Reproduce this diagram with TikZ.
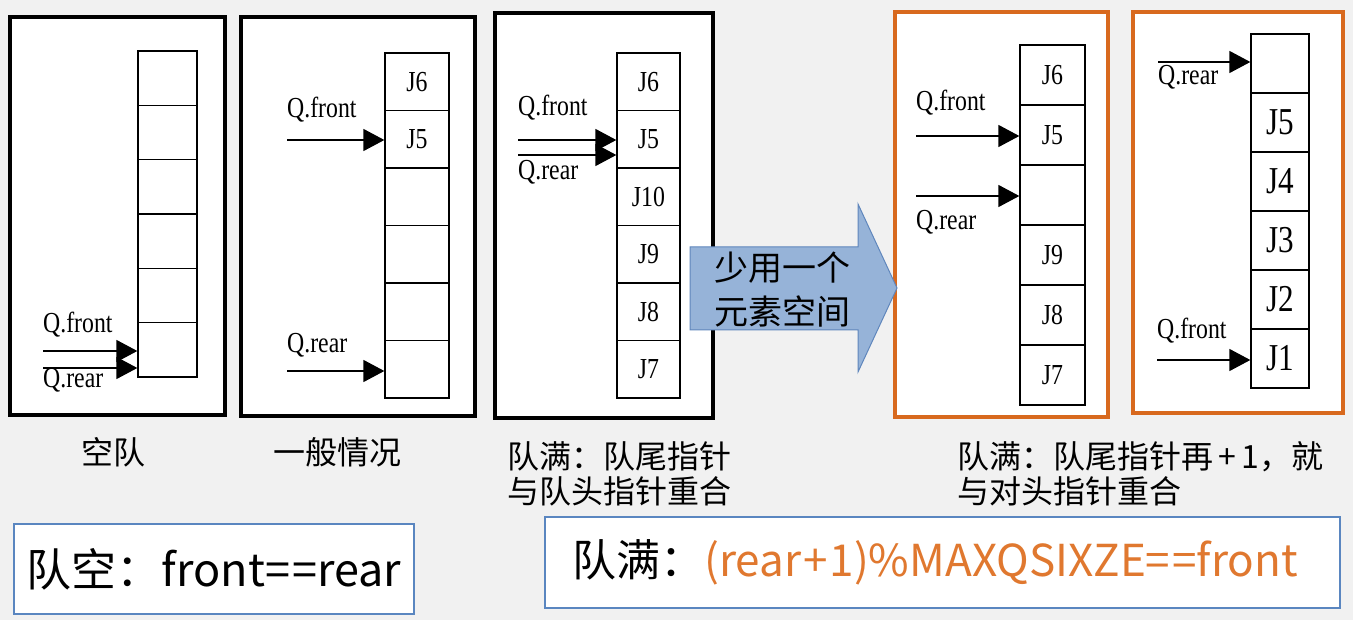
\documentclass[tikz,border=0pt]{standalone}
\usepackage{fontspec}
\usepackage{tikz}
\setmainfont{Noto Sans CJK SC}
\newfontfamily\qfont[FakeStretch=0.82]{Liberation Serif}
\usetikzlibrary{arrows.meta, positioning}
\definecolor{frameorange}{HTML}{D8691E}
\definecolor{textorange}{HTML}{E0782F}
\definecolor{boxblue}{HTML}{5A86C0}
\definecolor{arrowfill}{HTML}{96B3D8}
\definecolor{arrowdraw}{HTML}{5F86BC}
\definecolor{pagegray}{HTML}{F1F1F1}

\begin{document}
\begin{tikzpicture}[x=1pt, y=-1pt,
    cell/.style={rectangle, draw, line width=1.3pt, fill=white, inner sep=0pt, font=\qfont\fontsize{29}{29}\selectfont},
    bigcell/.style={cell, font=\qfont\fontsize{38}{38}\selectfont},
    ptr/.style={line width=1.5pt, -{Triangle[length=21pt, width=22pt]}},
    qlabel/.style={anchor=west, inner sep=0pt, font=\qfont\fontsize{29}{29}\selectfont},
    panel/.style={draw, line width=4.5pt, fill=white},
    caption/.style={inner sep=0pt, font=\fontsize{32}{35}\selectfont, align=left},
    formula/.style={rectangle, draw=boxblue, line width=2.5pt, fill=white, inner sep=0pt, font=\fontsize{45}{45}\selectfont}]
    \useasboundingbox (0,0) rectangle (1353,620);
    \fill[pagegray] (0,0) rectangle (1353,620);

    % Panel frames
    \draw[panel] (10,17) rectangle (225,415);
    \draw[panel] (241,17) rectangle (475,416);
    \draw[panel] (495,13) rectangle (713,418);
    \draw[panel, draw=frameorange, line width=4pt] (895,12) rectangle (1108,417);
    \draw[panel, draw=frameorange, line width=4pt] (1133,12) rectangle (1343,413);

    % Empty queue
    \foreach \i in {1,...,6}
        \node[cell, minimum width=59pt, minimum height=54.33pt] (a\i) at (167.5, {78.2+(\i-1)*54.33}) {};
    \node[qlabel] (afront) at (43,325) {Q.front};
    \node[qlabel] (arear) at (43,380) {Q.rear};
    \coordinate (af) at (43,351);
    \coordinate (ar) at (43,368);
    \draw[ptr] (af) -- (af -| a6.west);
    \draw[ptr] (ar) -- (ar -| a6.west);

    % General case
    \foreach \lab [count=\i] in {J6,J5,{},{},{},{}}
        \node[cell, minimum width=64pt, minimum height=57.5pt] (b\i) at (417, {81.75+(\i-1)*57.5}) {\lab};
    \node[qlabel] (bfront) at (287,110) {Q.front};
    \node[qlabel] (brear) at (287,345) {Q.rear};
    \coordinate (bf) at (287,140);
    \coordinate (br) at (287,371);
    \draw[ptr] (bf) -- (bf -| b2.west);
    \draw[ptr] (br) -- (br -| b6.west);

    % Full queue
    \foreach \lab [count=\i] in {J6,J5,J10,J9,J8,J7}
        \node[cell, minimum width=63pt, minimum height=57.5pt] (c\i) at (648.5, {81.75+(\i-1)*57.5}) {\lab};
    \node[qlabel] (cfront) at (518,108) {Q.front};
    \node[qlabel] (crear) at (518,172) {Q.rear};
    \coordinate (cf) at (518,140);
    \coordinate (cr) at (518,155);
    \draw[ptr] (cf) -- (cf -| c2.west);
    \draw[ptr] (cr) -- (cr -| c2.west);

    % Block arrow
    \draw[fill=arrowfill, draw=arrowdraw, line width=1pt]
        (690,247) -- (858,247) -- (858,204) -- (897,288) -- (858,372) -- (858,330) -- (690,330) -- cycle;
    \node[inner sep=0pt, align=center, font=\fontsize{34}{44}\selectfont] (spare) at (782,290) {少用一个\\元素空间};

    % One slot left free
    \foreach \lab [count=\i] in {J6,J5,{},J9,J8,J7}
        \node[cell, minimum width=65pt, minimum height=60pt] (d\i) at (1052.5, {75+(\i-1)*60}) {\lab};
    \node[qlabel] (dfront) at (916,103) {Q.front};
    \node[qlabel] (drear) at (916,222) {Q.rear};
    \coordinate (df) at (916,136);
    \coordinate (dr) at (916,196);
    \draw[ptr] (df) -- (df -| d2.west);
    \draw[ptr] (dr) -- (dr -| d3.west);

    % Wrapped around
    \foreach \lab [count=\i] in {{},J5,J4,J3,J2,J1}
        \node[bigcell, minimum width=58pt, minimum height=59pt] (e\i) at (1280, {63.5+(\i-1)*59}) {\lab};
    \node[qlabel] (erear) at (1158,77) {Q.rear};
    \node[qlabel] (efront) at (1157,331) {Q.front};
    \coordinate (er) at (1158,62);
    \coordinate (ef) at (1157,360);
    \draw[ptr] (er) -- (er -| e1.west);
    \draw[ptr] (ef) -- (ef -| e6.west);

    % Captions
    \node[caption] (emptycap) at (113,452) {空队};
    \node[caption] (generalcap) at (337,452) {一般情况};
    \node[caption, anchor=west] (fullcap) at (507,474) {队满：队尾指针\\与队头指针重合};
    \node[caption, anchor=west] (sparecap) at (957,474) {队满：队尾指针再\,+\,1，就\\与对头指针重合};

    % Conditions
    \node[formula, minimum width=400pt, minimum height=90pt] (emptycond) at (214,569) {队空：front=\kern2pt=rear};
    \node[formula, minimum width=795pt, minimum height=91pt, font=\fontsize{44}{44}\selectfont] (fullcond) at (942.5,562.5) {\kern-15pt 队满：\textcolor{textorange}{(rear\kern2pt+\kern2pt1)\%MAXQSIXZE=\kern2pt=front}};
\end{tikzpicture}
\end{document}
